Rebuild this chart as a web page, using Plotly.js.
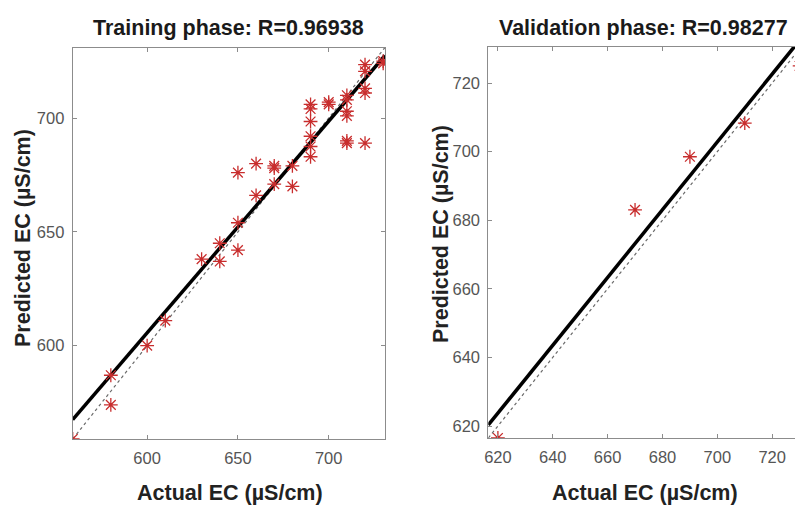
<!DOCTYPE html>
<html>
<head>
<meta charset="utf-8">
<script src="https://cdn.plot.ly/plotly-3.0.1.min.js"></script>
<style>
html,body{margin:0;padding:0;overflow:hidden;background:#fff;width:795px;height:510px;}
#chart{width:805px;height:510px;}
</style>
</head>
<body>
<div id="chart"></div>
<script>
// ---- Data ----
var trainActual = [559, 580, 580, 600, 610, 630, 640, 640, 650, 650, 650, 660, 660, 670, 670, 670,
                   680, 680, 690, 690, 690, 690, 690, 690, 700, 700, 710, 710, 710, 710, 710, 710,
                   720, 720, 720, 720, 720, 730, 730];
var trainPred   = [559, 587, 574, 600, 611, 638, 645, 637, 654, 642, 676, 666, 680, 678, 679, 671,
                   679, 670, 706, 704, 698.5, 692, 687.5, 683, 707, 706, 710, 708, 703, 701, 690, 689,
                   723.5, 720.5, 713, 711, 689, 725, 724];
var trainFitX   = [559, 731];
var trainFitY   = [567.5, 727.5];
var trainIdent  = [559, 731];
var trainRange  = [559, 731];
var trainTicks  = [600, 650, 700];

var validActual = [620, 670, 690, 710, 730];
var validPred   = [616.5, 683, 698.5, 708.3, 725];
var validFitX   = [616.5, 730.5];
var validFitY   = [620.3, 733.0];
var validIdent  = [616.5, 730.5];
var validRange  = [616.5, 730.5];
var validTicks  = [620, 640, 660, 680, 700, 720];

var trainTitle = "Training phase: R=0.96938";
var validTitle = "Validation phase: R=0.98277";
var xLabel = "Actual EC (µS/cm)";
var yLabel = "Predicted EC (µS/cm)";

// ---- Styling ----
var W = 805, H = 510;
var FONT = "Liberation Sans, Arial, sans-serif";
var starColor = "rgb(200,45,45)";
function px(x){ return x / W; }
function py(y){ return 1 - y / H; }

function starTrace(x, y, xa, ya){
  return {x: x, y: y, xaxis: xa, yaxis: ya, type: "scatter", mode: "markers",
    marker: {symbol: "asterisk-open", size: 11.5, color: starColor,
             line: {color: starColor, width: 1.3}}, hoverinfo: "x+y"};
}
function lineTrace(x, y, xa, ya, style){
  return {x: x, y: y, xaxis: xa, yaxis: ya, type: "scatter", mode: "lines",
    line: style, hoverinfo: "skip"};
}

var traces = [
  lineTrace(trainIdent, trainIdent, "x", "y", {color: "#6a6a6a", width: 1.2, dash: "dot"}),
  lineTrace(trainFitX, trainFitY, "x", "y", {color: "#000", width: 3.5}),
  starTrace(trainActual, trainPred, "x", "y"),
  lineTrace(validIdent, validIdent, "x2", "y2", {color: "#6a6a6a", width: 1.2, dash: "dot"}),
  lineTrace(validFitX, validFitY, "x2", "y2", {color: "#000", width: 3.5}),
  starTrace(validActual, validPred, "x2", "y2")
];

function axis(domain, range, ticks, anchor){
  return {domain: domain, range: range, tickvals: ticks, ticktext: ticks.map(String),
    anchor: anchor, showline: true, mirror: "ticks", linecolor: "#8c8c8c", linewidth: 1,
    ticks: "inside", ticklen: 4, tickcolor: "#8c8c8c", tickwidth: 1,
    showgrid: false, zeroline: false, ticklabelstandoff: 4,
    tickfont: {family: FONT, size: 16.5, color: "#555"}};
}

var titleFont = {family: FONT, size: 21.5, color: "#1a1a1a", weight: 700};
var labelFont = {family: FONT, size: 21.5, color: "#222", weight: 700};

function ann(text, x, y, font, angle){
  return {text: text, x: px(x), y: py(y), xref: "paper", yref: "paper",
    xanchor: "center", yanchor: "middle", showarrow: false, font: font,
    textangle: angle || 0};
}

var layout = {
  width: W, height: H,
  margin: {l: 0, r: 0, t: 0, b: 0},
  paper_bgcolor: "#fff", plot_bgcolor: "#fff",
  showlegend: false,
  xaxis:  axis([px(72.7), px(385)], trainRange, trainTicks, "y"),
  yaxis:  axis([py(439), py(47.5)], trainRange, trainTicks, "x"),
  xaxis2: axis([px(488.3), px(801)], validRange, validTicks, "y2"),
  yaxis2: axis([py(438), py(47)], validRange, validTicks, "x2"),
  annotations: [
    ann(trainTitle, 228.8, 28, titleFont),
    ann(validTitle, 643.5, 28, titleFont),
    ann(xLabel, 229.5, 493, labelFont),
    ann(xLabel, 645, 493, labelFont),
    ann(yLabel, 23, 238, labelFont, -90),
    ann(yLabel, 441, 234, labelFont, -90)
  ]
};

Plotly.newPlot("chart", traces, layout, {staticPlot: true, displayModeBar: false});
</script>
</body>
</html>
